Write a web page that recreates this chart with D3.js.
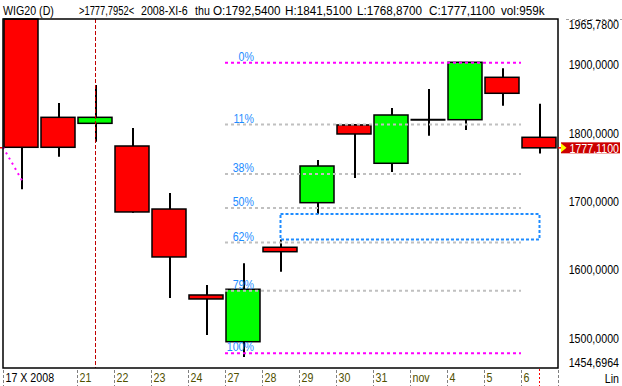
<!DOCTYPE html>
<html><head><meta charset="utf-8">
<script src="https://cdn.jsdelivr.net/npm/d3@7"></script>
<style>
html,body{margin:0;padding:0;background:#fff;}
svg{display:block;}
text{font-family:"Liberation Sans",Arial,sans-serif;}
</style></head><body>
<svg id="c" width="622" height="386"></svg>
<script>
// ---------------- data ----------------
const dates  = ["2008-10-17","2008-10-20","2008-10-21","2008-10-22","2008-10-23","2008-10-24","2008-10-27",
                "2008-10-28","2008-10-29","2008-10-30","2008-10-31","2008-11-03","2008-11-04","2008-11-05","2008-11-06"];
const opens  = [1965.78,1821.8,1813.0,1779.8,1687.5,1561.6,1493.2,1631.5,1696.8,1810.6,1754.5,1818.3,1818.3,1880.4,1792.54];
const highs  = [1965.78,1842.8,1869.1,1806.2,1711.0,1576.3,1608.0,1642.9,1759.3,1812.0,1835.5,1863.3,1902.4,1893.6,1841.51];
const lows   = [1716.4,1764.1,1786.1,1682.0,1557.2,1503.0,1470.8,1595.7,1680.2,1732.9,1741.7,1794.9,1803.3,1838.8,1768.87];
const closes = [1777.9,1777.9,1821.8,1683.2,1617.3,1555.8,1570.0,1625.0,1750.5,1797.4,1825.2,1818.3,1902.4,1857.0,1777.11];
const xTickLabels = ["17 X 2008","","21","22","23","24","27","28","29","30","31","nov","4","5","6"];
const yTickValues = [1500,1600,1700,1800,1900];
const yDomain = [1454.6964, 1965.78];
const fibHigh = 1901.8, fibLow = 1476.2;
const fibRatios = [0, 0.213, 0.383, 0.5, 0.619, 0.785, 1];
const fibLabels = ["0%","11%","38%","50%","62%","79%","100%"];
const trendValues = [1778, 1726];
const headerParts = ["WIG20 (D)", ">1777,7952<", "2008-XI-6", "thu", "O:1792,5400", "H:1841,5100", "L:1768,8700", "C:1777,1100", "vol:959k"];
const scaleLabel = "Lin";

// ---------------- layout ----------------
const svg = d3.select("#c");
const plot = {left:3, right:558, top:19, bottom:368};
const SX = 0.82, FS = 13;
const headerX = [3, 79, 141, 195, 213, 285, 357, 429, 501];
const headerSX = [SX, 0.72, SX, SX, 0.9, 0.9, 0.9, 0.9, 0.9];

const x = d3.scaleBand().domain(dates).range([plot.left, plot.right]).padding(0);
const bw = x.bandwidth();
const y = d3.scaleLinear().domain(yDomain).range([plot.bottom, plot.top]);
const fmt = v => d3.format(".4f")(v).replace(".", ",");

function label(g, tx, ty, str, opts = {}) {
  return g.append("text")
    .attr("transform", `translate(${tx},${ty}) scale(${opts.sx || SX},1)`)
    .attr("text-anchor", opts.anchor || "start")
    .attr("font-size", opts.size || FS)
    .attr("fill", opts.fill || "#000")
    .text(str);
}

const candles = dates.map((d, i) => ({date: d, o: opens[i], h: highs[i], l: lows[i], c: closes[i]}));

// header
const hdr = svg.append("g");
headerParts.forEach((t, i) => label(hdr, headerX[i], 15, t, {sx: headerSX[i]}));

// top-right dashed
svg.append("line").attr("x1", 566).attr("x2", 622).attr("y1", 19.5).attr("y2", 19.5)
  .attr("stroke", "#a0a0a0").attr("stroke-dasharray", "3,3");

// candles
const cg = svg.append("g");
cg.selectAll("line.wick").data(candles).join("line")
  .attr("class", "wick")
  .attr("x1", d => x(d.date) + bw / 2 + 0.5).attr("x2", d => x(d.date) + bw / 2 + 0.5)
  .attr("y1", d => y(d.h)).attr("y2", d => y(d.l))
  .attr("stroke", "#000").attr("stroke-width", 2);

cg.selectAll("rect.body").data(candles.filter(d => d.o !== d.c)).join("rect")
  .attr("class", "body")
  .attr("x", d => x(d.date) + 1).attr("width", bw - 3)
  .attr("y", d => y(Math.max(d.o, d.c)))
  .attr("height", d => Math.abs(y(d.o) - y(d.c)))
  .attr("fill", d => d.c > d.o ? "#00ff00" : "#ff0000")
  .attr("stroke", "#000").attr("stroke-width", 1.5);

cg.selectAll("line.doji").data(candles.filter(d => d.o === d.c)).join("line")
  .attr("class", "doji")
  .attr("x1", d => x(d.date) + 0.5).attr("x2", d => x(d.date) + bw - 1.5)
  .attr("y1", d => y(d.o)).attr("y2", d => y(d.o))
  .attr("stroke", "#000").attr("stroke-width", 2);

// trend fragment
svg.append("line")
  .attr("x1", x(dates[0])).attr("y1", y(trendValues[0]))
  .attr("x2", x(dates[0]) + bw * 0.55).attr("y2", y(trendValues[1]))
  .attr("stroke", "#ff00ff").attr("stroke-width", 2).attr("stroke-dasharray", "2,4");

// fibonacci
const fx1 = x(dates[6]), fx2 = x(dates[14]);
const fg = svg.append("g");
fibRatios.forEach((r, i) => {
  const v = fibHigh - r * (fibHigh - fibLow);
  const yy = y(v);
  const edge = (i === 0 || i === fibRatios.length - 1);
  fg.append("line").attr("x1", fx1).attr("x2", fx2).attr("y1", yy).attr("y2", yy)
    .attr("stroke", edge ? "#ff00ff" : "#c0c0c0").attr("stroke-width", 2)
    .attr("stroke-dasharray", "3,3");
  label(fg, fx1 + 29, yy - 2, fibLabels[i], {anchor: "end", fill: "#1e8cff"});
});

// gap box
svg.append("rect")
  .attr("x", x(dates[7]) + bw / 2).attr("width", x(dates[14]) - x(dates[7]))
  .attr("y", y(lows[8])).attr("height", y(highs[7]) - y(lows[8]))
  .attr("fill", "none").attr("stroke", "#1e8cff").attr("stroke-width", 2)
  .attr("stroke-dasharray", "3,2");

// cursor line
const cx = x(dates[2]) + bw / 2;
svg.append("line").attr("x1", cx).attr("x2", cx).attr("y1", plot.top).attr("y2", plot.bottom)
  .attr("stroke", "#c00000").attr("stroke-width", 1).attr("stroke-dasharray", "4,2");

// plot border
svg.append("rect").attr("x", plot.left).attr("y", plot.top)
  .attr("width", plot.right - plot.left).attr("height", plot.bottom - plot.top)
  .attr("fill", "none").attr("stroke", "#000").attr("stroke-width", 1.5);

// y axis
const ya = svg.append("g").attr("transform", "translate(619,0)")
  .call(d3.axisRight(y).tickValues(yTickValues).tickSize(0).tickFormat(fmt));
ya.select(".domain").remove();
ya.selectAll("text").attr("x", 0).attr("dy", null).attr("y", 5)
  .attr("text-anchor", "end").attr("font-size", FS).attr("font-family", null)
  .attr("fill", "#000").attr("transform", `scale(${SX},1)`);
label(svg, 619, y(yDomain[1]) + 9.5, fmt(yDomain[1]), {anchor: "end"});
label(svg, 619, y(yDomain[0]) - 1, fmt(yDomain[0]), {anchor: "end"});
label(svg, 619, 383, scaleLabel, {anchor: "end"});

// price tag
const last = candles[candles.length - 1];
const py = y(last.c);
svg.append("line").attr("x1", plot.right).attr("x2", 561).attr("y1", py).attr("y2", py)
  .attr("stroke", "#ff0000").attr("stroke-width", 1.5);
svg.append("line").attr("x1", 0).attr("x2", 2).attr("y1", py).attr("y2", py)
  .attr("stroke", "#ff0000").attr("stroke-width", 1.5);
const tag = svg.append("g").attr("transform", `translate(561,${py})`);
tag.append("rect").attr("x", 0).attr("y", -5.5).attr("width", 59).attr("height", 11).attr("fill", "#cc0000");
tag.append("path").attr("d", "M0,-4.5L5.5,0L0,4.5Z").attr("fill", "#ffff00");
label(tag, 58, 4.8, fmt(last.c), {anchor: "end", fill: "#fff"});

// x axis
const xg = svg.append("g");
const tickIdx = xTickLabels.map((t, i) => i).filter(i => xTickLabels[i] !== "");
xg.selectAll("line.tick").data(tickIdx.map(i => x(dates[i])).concat([plot.right])).join("line")
  .attr("class", "tick")
  .attr("x1", d => d + 0.5).attr("x2", d => d + 0.5).attr("y1", plot.bottom + 2).attr("y2", 386)
  .attr("stroke", "#808080").attr("stroke-dasharray", "3,2");
tickIdx.forEach(i => label(xg, x(dates[i]) + 2.5, 382, xTickLabels[i], {fill: i === 0 ? "#000" : "#505000"}));
const lx = x(dates[14]) + bw / 2;
svg.append("line").attr("x1", lx).attr("x2", lx).attr("y1", plot.bottom + 1).attr("y2", 386)
  .attr("stroke", "#ff0000").attr("stroke-dasharray", "2,2");
</script></body></html>
